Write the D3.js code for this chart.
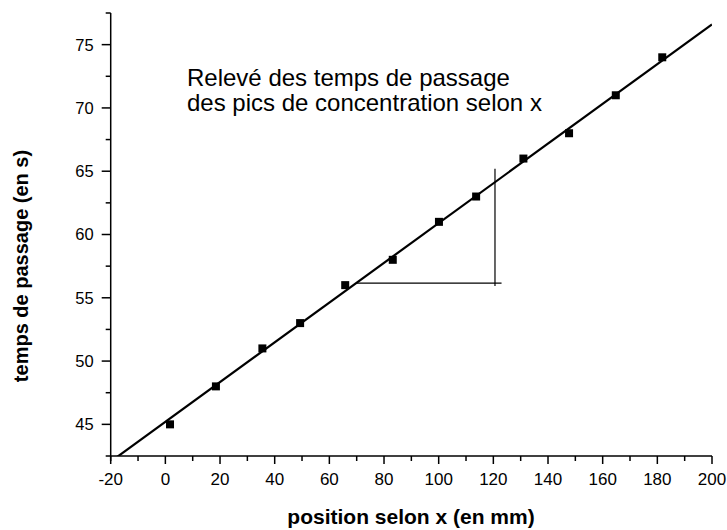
<!DOCTYPE html>
<html>
<head>
<meta charset="utf-8">
<script src="https://cdn.jsdelivr.net/npm/d3@7"></script>
<style>
  html, body { margin: 0; padding: 0; background: #fff; }
  svg { display: block; }
  text { font-family: "Liberation Sans", Arial, sans-serif; fill: #000; }
</style>
</head>
<body>
<svg id="chart" width="727" height="530"></svg>
<script>
// Measured positions along x (mm) and the matching passage times (s)
const positions = [1.7, 18.5, 35.5, 49.3, 65.8, 83.2, 100.1, 113.7, 131.0, 147.7, 164.8, 181.8];
const times     = [45, 48, 51, 53, 56, 58, 61, 63, 66, 68, 71, 74];

// Linear fit t = intercept + slope * x
const fitSlope = 0.157;
const fitIntercept = 45.2;

// Slope triangle drawn against the fit line
const triangleLevel = 56.16;   // horizontal leg (s)
const triangleX = 120.6;       // vertical leg (mm)
const triangleTop = 65.2;
const triangleBottom = 55.94;
const triangleRight = 123;

const xTicks = [-20, 0, 20, 40, 60, 80, 100, 120, 140, 160, 180, 200];
const yTicks = [45, 50, 55, 60, 65, 70, 75];

const titleLines = ["Relevé des temps de passage", "des pics de concentration selon x"];
const xTitle = "position selon x (en mm)";
const yTitle = "temps de passage (en s)";

const svg = d3.select("#chart");
const plotLeft = 110.7, plotRight = 712, plotTop = 13, plotBottom = 456;

const x = d3.scaleLinear().domain([-20, 200]).range([plotLeft, plotRight]);
const y = d3.scaleLinear().domain([42.5, 77.5]).range([plotBottom, plotTop]);

// Minor ticks
const xMinor = d3.range(-10, 200, 20);
const yMinor = d3.range(42.5, 77.6, 5).filter(v => v > 42.6);

const gx = svg.append("g").attr("transform", `translate(0,${plotBottom})`);
gx.append("line").attr("x1", plotLeft - 5).attr("x2", plotRight).attr("y1", 0).attr("y2", 0)
  .attr("stroke", "#000").attr("stroke-width", 1.5);
gx.selectAll(".maj").data(xTicks).join("line").attr("class", "maj")
  .attr("x1", d => x(d)).attr("x2", d => x(d)).attr("y1", 0).attr("y2", 8)
  .attr("stroke", "#000").attr("stroke-width", 1.5);
gx.selectAll(".min").data(xMinor).join("line").attr("class", "min")
  .attr("x1", d => x(d)).attr("x2", d => x(d)).attr("y1", 0).attr("y2", 5)
  .attr("stroke", "#000").attr("stroke-width", 1.5);
gx.selectAll("text").data(xTicks).join("text")
  .attr("x", d => x(d)).attr("y", 29).attr("text-anchor", "middle")
  .attr("font-size", 17).text(d => d);

const gy = svg.append("g").attr("transform", `translate(${plotLeft},0)`);
gy.append("line").attr("x1", 0).attr("x2", 0).attr("y1", plotTop).attr("y2", plotBottom + 5)
  .attr("stroke", "#000").attr("stroke-width", 1.5);
gy.selectAll(".maj").data(yTicks).join("line").attr("class", "maj")
  .attr("x1", -9).attr("x2", 0).attr("y1", d => y(d)).attr("y2", d => y(d))
  .attr("stroke", "#000").attr("stroke-width", 1.5);
gy.selectAll(".min").data(yMinor).join("line").attr("class", "min")
  .attr("x1", -5).attr("x2", 0).attr("y1", d => y(d)).attr("y2", d => y(d))
  .attr("stroke", "#000").attr("stroke-width", 1.5);
gy.selectAll("text").data(yTicks).join("text")
  .attr("x", -17).attr("y", d => y(d)).attr("dy", "0.36em").attr("text-anchor", "end")
  .attr("font-size", 16.5).text(d => d);

// Fit line, clipped to the plot area
svg.append("clipPath").attr("id", "plotClip").append("rect")
  .attr("x", plotLeft).attr("y", plotTop).attr("width", plotRight - plotLeft).attr("height", plotBottom - plotTop);
const fitLine = d3.line().x(d => x(d)).y(d => y(fitIntercept + fitSlope * d));
svg.append("path").datum([-20, 200])
  .attr("clip-path", "url(#plotClip)")
  .attr("d", fitLine).attr("fill", "none").attr("stroke", "#000").attr("stroke-width", 2.2);

// Slope triangle
const xStart = (triangleLevel - fitIntercept) / fitSlope;
svg.append("line").attr("x1", x(xStart)).attr("x2", x(triangleRight))
  .attr("y1", y(triangleLevel)).attr("y2", y(triangleLevel))
  .attr("stroke", "#000").attr("stroke-width", 1.2);
svg.append("line").attr("x1", x(triangleX)).attr("x2", x(triangleX))
  .attr("y1", y(triangleTop)).attr("y2", y(triangleBottom))
  .attr("stroke", "#000").attr("stroke-width", 1.2);

// Data markers
const pts = positions.map((p, i) => ({ x: p, y: times[i] }));
const s = 8;
svg.selectAll(".pt").data(pts).join("rect").attr("class", "pt")
  .attr("x", d => x(d.x) - s / 2).attr("y", d => y(d.y) - s / 2)
  .attr("width", s).attr("height", s).attr("fill", "#000");

// Annotation
svg.append("text").attr("x", 187).attr("y", 86).attr("font-size", 24).text(titleLines[0]);
svg.append("text").attr("x", 187).attr("y", 111).attr("font-size", 24).text(titleLines[1]);

// Axis titles
svg.append("text").attr("x", 411).attr("y", 524).attr("text-anchor", "middle")
  .attr("font-size", 21).attr("font-weight", "bold").text(xTitle);
svg.append("text").attr("transform", "translate(28,266) rotate(-90)")
  .attr("text-anchor", "middle").attr("font-size", 20).attr("font-weight", "bold").text(yTitle);
</script>
</body>
</html>
